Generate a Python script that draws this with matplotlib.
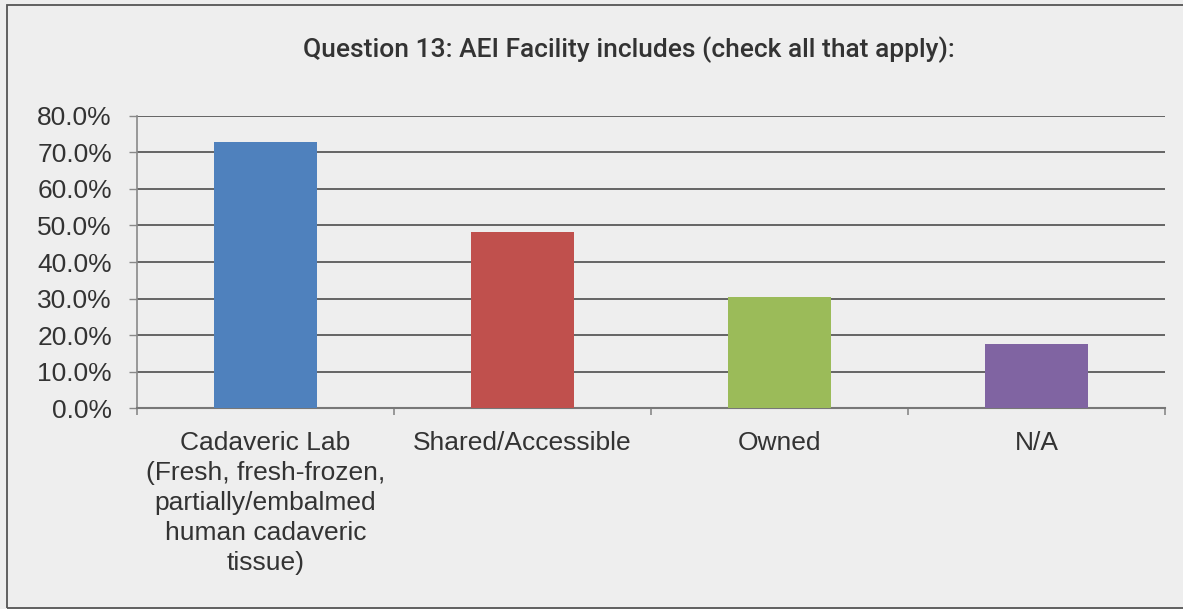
import matplotlib
matplotlib.use('Agg')
import matplotlib.pyplot as plt
import matplotlib.patches as patches
import numpy as np

categories = ["Cadaveric Lab\n(Fresh, fresh-frozen,\npartially/embalmed\nhuman cadaveric\ntissue)",
              "Shared/Accessible", "Owned", "N/A"]
values = [72.8, 48.2, 30.5, 17.6]
colors = ["#4F81BD", "#C0504D", "#9BBB59", "#8064A2"]
y_ticks = [0, 10, 20, 30, 40, 50, 60, 70, 80]
title = "Question 13: AEI Facility includes (check all that apply):"

bg = "#EEEEEE"
txt = "#333333"

fig = plt.figure(figsize=(11.83, 6.09), dpi=100)
fig.patch.set_facecolor(bg)
ax = fig.add_axes([137/1183, 200.7/609, 1028/1183, 292.6/609])
ax.set_facecolor(bg)

# outer chart frame
fig.patches.append(patches.Rectangle((7/1183, 1/609), 1.2, 603/609, transform=fig.transFigure,
                                     fill=False, edgecolor="#555555", linewidth=1.3))

X = np.arange(len(values))
ax.bar(X, values, width=0.4, color=colors, zorder=3)

ax.set_xlim(-0.5, len(values) - 0.5)
ax.set_ylim(0, 80)
ax.set_yticks(y_ticks)
ax.set_yticklabels(["{:.1f}%".format(v) for v in y_ticks], fontsize=19, color=txt,
                   family=["Liberation Sans", "DejaVu Sans"])
ax.yaxis.grid(True, color="#4d4d4d", linewidth=1.2, zorder=0)
ax.tick_params(axis='y', direction='out', length=6, width=1, color="#888888", pad=12)

ax.set_xticks(X)
ax.set_xticklabels(categories, fontsize=19, color=txt, linespacing=1.32,
                   family=["Liberation Sans", "DejaVu Sans"], va='top')
ax.tick_params(axis='x', which='major', length=0, pad=16)
ax.set_xticks(np.arange(len(values) + 1) - 0.5, minor=True)
ax.tick_params(axis='x', which='minor', direction='out', length=5, width=1.2, color="#888888")

for s in ["top", "right"]:
    ax.spines[s].set_visible(False)
ax.spines["left"].set_color("#888888")
ax.spines["bottom"].set_color("#777777")
ax.spines["left"].set_linewidth(1.2)
ax.spines["bottom"].set_linewidth(1.5)

fig.text(0.532, 0.919, title, ha='center', va='center', fontsize=19, color=txt,
         family=["Roboto", "Liberation Sans", "DejaVu Sans"], weight='medium')

plt.savefig("out.png", dpi=100, facecolor=bg)
